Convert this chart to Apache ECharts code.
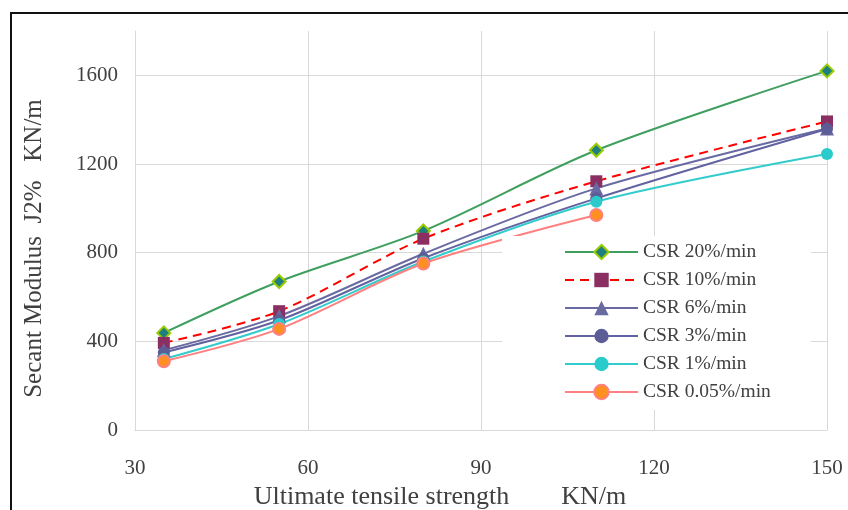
<!DOCTYPE html>
<html>
<head>
<meta charset="utf-8">
<script src="https://cdn.jsdelivr.net/npm/echarts@6/dist/echarts.min.js"></script>
<style>
  html, body { margin: 0; padding: 0; background: #fff; }
  #main { width: 848px; height: 510px; }
</style>
</head>
<body>
<div id="main"></div>
<script>
// 데이터
let xValues = [35, 55, 80, 110, 150];
let seriesNames = ["CSR 20%/min", "CSR 10%/min", "CSR 6%/min", "CSR 3%/min", "CSR 1%/min", "CSR 0.05%/min"];
let csr20 = [438, 670, 898, 1262, 1620];
let csr10 = [393, 536, 863, 1122, 1392];
let csr6 = [360, 514, 795, 1090, 1360];
let csr3 = [350, 495, 775, 1045, 1358];
let csr1 = [320, 478, 760, 1030, 1245];
let csr005 = [310, 456, 751, 970];
let xTicks = [30, 60, 90, 120, 150];
let yTicks = [0, 400, 800, 1200, 1600];

function toPairs(values) {
  return values.map(function (v, i) {
    return [xValues[i], v];
  });
}

let fontFamily = "'Liberation Serif', 'DejaVu Serif', serif";
let textColor = "#404040";

let chart = echarts.init(document.getElementById("main"));

// 시리즈 공통 스타일
function makeSeries(name, values, lineColor, symbol, symbolSize, fill, border, dashed) {
  return {
    name: name,
    type: "line",
    data: toPairs(values),
    smooth: 0.3,
    symbol: symbol,
    symbolSize: symbolSize,
    showAllSymbol: true,
    lineStyle: {
      color: lineColor,
      width: 2,
      type: dashed ? [9, 6] : "solid",
    },
    itemStyle: {
      color: fill,
      borderColor: border,
      borderWidth: border === fill ? 0 : 2,
    },
    emphasis: { disabled: true },
  };
}

let option = {
  animation: false,
  backgroundColor: "#fff",
  graphic: [
    {
      type: "rect",
      z: -10,
      shape: { x: 11, y: 13, width: 900, height: 600 },
      style: { fill: "none", stroke: "#111", lineWidth: 2 },
    },
  ],
  grid: {
    left: 135,
    right: 21,
    top: 31,
    bottom: 80,
    outerBoundsMode: "none",
  },
  legend: {
    orient: "vertical",
    left: 502,
    top: 236,
    padding: [6, 40, 8, 62],
    backgroundColor: "#fff",
    itemWidth: 73,
    itemHeight: 18,
    itemGap: 8,
    data: seriesNames,
    textStyle: {
      fontFamily: fontFamily,
      fontSize: 19.5,
      lineHeight: 20,
      color: textColor,
    },
  },
  xAxis: {
    type: "value",
    min: xTicks[0],
    max: xTicks[xTicks.length - 1],
    interval: 30,
    name: "Ultimate tensile strength        KN/m",
    nameLocation: "middle",
    nameGap: 50,
    nameTextStyle: {
      fontFamily: fontFamily,
      fontSize: 26,
      color: textColor,
      padding: [0, 82, 0, 0],
    },
    axisLine: { show: true, lineStyle: { color: "#d9d9d9", width: 1 } },
    axisTick: { show: false },
    axisLabel: {
      margin: 28,
      fontFamily: fontFamily,
      fontSize: 21,
      color: textColor,
    },
    splitLine: { show: true, lineStyle: { color: "#d9d9d9", width: 1 } },
  },
  yAxis: {
    type: "value",
    min: 0,
    max: 1800,
    interval: 400,
    name: "Secant Modulus  J2%   KN/m",
    nameLocation: "middle",
    nameGap: 88,
    nameRotate: 90,
    nameTextStyle: {
      fontFamily: fontFamily,
      fontSize: 25,
      color: textColor,
      padding: [0, 36, 0, 0],
    },
    axisLine: { show: true, lineStyle: { color: "#d9d9d9", width: 1 } },
    axisTick: { show: false },
    axisLabel: {
      margin: 17,
      showMaxLabel: false,
      formatter: function (v) {
        return String(v);
      },
      fontFamily: fontFamily,
      fontSize: 21,
      color: textColor,
    },
    splitLine: { show: true, showMaxLine: false, lineStyle: { color: "#d9d9d9", width: 1 } },
  },
  series: [
    makeSeries(seriesNames[0], csr20, "#3f9f5f", "diamond", 13, "#1f7f7f", "#99cc00", false),
    makeSeries(seriesNames[1], csr10, "#ff0000", "rect", 12, "#8b2f62", "#8b2f62", true),
    makeSeries(seriesNames[2], csr6, "#6a6aa2", "triangle", 14, "#6a6aa2", "#6a6aa2", false),
    makeSeries(seriesNames[3], csr3, "#6262a0", "circle", 12, "#5c5c96", "#5c5c96", false),
    makeSeries(seriesNames[4], csr1, "#33cccc", "circle", 12, "#2bcbcb", "#2bcbcb", false),
    makeSeries(seriesNames[5], csr005, "#ff8080", "circle", 12, "#ff9020", "#ff8080", false),
  ],
};

chart.setOption(option);
</script>
</body>
</html>
